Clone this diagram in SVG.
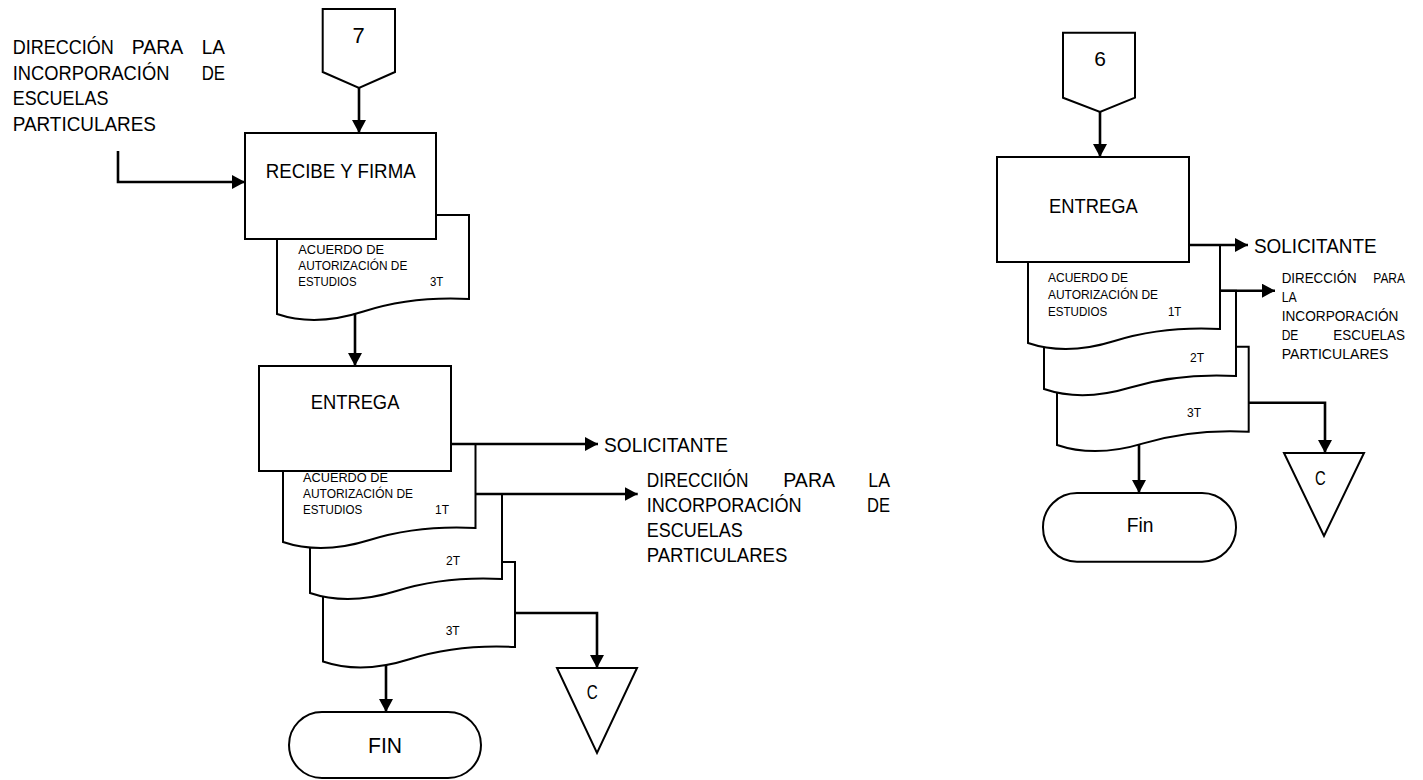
<svg xmlns="http://www.w3.org/2000/svg" width="1423" height="780" viewBox="0 0 1423 780">
<style>
.shape{fill:#fff;stroke:#000;stroke-width:2}
.conn{fill:none;stroke:#000;stroke-width:2.6}
.t{font-family:"Liberation Sans",Arial,sans-serif;fill:#000}
.f20{font-size:20px}
.f21{font-size:21px}
.doc{font-size:13px}
.f15{font-size:15px}
.mid{text-anchor:middle}
</style>
<defs>
<marker id="ah" markerUnits="userSpaceOnUse" markerWidth="14" markerHeight="14" refX="13" refY="7" orient="auto">
<path d="M0,0 L13,7 L0,14 Z" fill="#000"/>
</marker>
</defs>
<rect width="1423" height="780" fill="#fff"/>

<g id="lbl-dir-left">
<text class="t f20" x="12.7" y="54" textLength="101" lengthAdjust="spacingAndGlyphs">DIRECCIÓN</text>
<text class="t f20" x="131.7" y="54" textLength="51.5" lengthAdjust="spacingAndGlyphs">PARA</text>
<text class="t f20" x="201.7" y="54" textLength="23.3" lengthAdjust="spacingAndGlyphs">LA</text>
<text class="t f20" x="12.7" y="80" textLength="156.7" lengthAdjust="spacingAndGlyphs">INCORPORACIÓN</text>
<text class="t f20" x="201.7" y="80" textLength="23.3" lengthAdjust="spacingAndGlyphs">DE</text>
<text class="t f20" x="12.7" y="105" textLength="95.7" lengthAdjust="spacingAndGlyphs">ESCUELAS</text>
<text class="t f20" x="12.7" y="130.5" textLength="143.3" lengthAdjust="spacingAndGlyphs">PARTICULARES</text>
</g>

<g id="off7">
<polygon class="shape" points="322.7,9 395,9 395,72 359,88 322.7,72"/>
<text class="t mid" style="font-size:22px" x="358.5" y="42.7">7</text>
</g>

<g id="docA">
<path class="shape" d="M277,314 Q315.4,327 363.4,311.5 T469,299 V215 H277 Z"/>
<text class="t doc" x="298.3" y="254.3" textLength="85.7" lengthAdjust="spacingAndGlyphs">ACUERDO DE</text>
<text class="t doc" x="298.3" y="270" textLength="109" lengthAdjust="spacingAndGlyphs">AUTORIZACIÓN DE</text>
<text class="t doc" x="298.3" y="285.7" textLength="58.3" lengthAdjust="spacingAndGlyphs">ESTUDIOS</text>
<text class="t doc" x="430" y="285.7" textLength="13.3" lengthAdjust="spacingAndGlyphs">3T</text>
</g>

<g id="recibe">
<rect class="shape" x="245" y="133" width="191" height="106"/>
<text class="t f20" x="265.7" y="177.7" textLength="150" lengthAdjust="spacingAndGlyphs">RECIBE Y FIRMA</text>
</g>

<g id="docD">
<path class="shape" d="M323,661.5 Q361.4,674.5 409.4,659.25 T515,647 V562 H323 Z"/>
<text class="t doc" x="445.7" y="635" textLength="14" lengthAdjust="spacingAndGlyphs">3T</text>
</g>
<g id="docC">
<path class="shape" d="M310,593 Q348.4,606 396.4,591 T502,579 V494 H310 Z"/>
<text class="t doc" x="446" y="565" textLength="14" lengthAdjust="spacingAndGlyphs">2T</text>
</g>
<g id="docB">
<path class="shape" d="M283,542 Q321.5,555 369.6,540 T475.5,528 V444 H283 Z"/>
<text class="t doc" x="303" y="481.7" textLength="85" lengthAdjust="spacingAndGlyphs">ACUERDO DE</text>
<text class="t doc" x="303" y="498" textLength="110" lengthAdjust="spacingAndGlyphs">AUTORIZACIÓN DE</text>
<text class="t doc" x="303" y="514" textLength="59.3" lengthAdjust="spacingAndGlyphs">ESTUDIOS</text>
<text class="t doc" x="435" y="514" textLength="14" lengthAdjust="spacingAndGlyphs">1T</text>
</g>

<g id="entrega-left">
<rect class="shape" x="259" y="366" width="192" height="105"/>
<text class="t f20" x="310.7" y="409" textLength="88.7" lengthAdjust="spacingAndGlyphs">ENTREGA</text>
</g>

<g id="lbl-sol-left">
<text class="t f21" x="604" y="451.5" textLength="124" lengthAdjust="spacingAndGlyphs">SOLICITANTE</text>
</g>

<g id="lbl-dir-mid">
<text class="t f20" x="646.7" y="487" textLength="101.7" lengthAdjust="spacingAndGlyphs">DIRECCIIÓN</text>
<text class="t f20" x="783.3" y="487" textLength="51.7" lengthAdjust="spacingAndGlyphs">PARA</text>
<text class="t f20" x="868.3" y="487" textLength="21.7" lengthAdjust="spacingAndGlyphs">LA</text>
<text class="t f20" x="646.7" y="512" textLength="155" lengthAdjust="spacingAndGlyphs">INCORPORACIÓN</text>
<text class="t f20" x="867" y="512" textLength="23" lengthAdjust="spacingAndGlyphs">DE</text>
<text class="t f20" x="646.7" y="537" textLength="96" lengthAdjust="spacingAndGlyphs">ESCUELAS</text>
<text class="t f20" x="646.7" y="562" textLength="140.7" lengthAdjust="spacingAndGlyphs">PARTICULARES</text>
</g>

<g id="fin-left">
<rect class="shape" x="289" y="712" width="192" height="66" rx="33" ry="33"/>
<text class="t" style="font-size:22px" x="368" y="752.7" textLength="34" lengthAdjust="spacingAndGlyphs">FIN</text>
</g>

<g id="c-left">
<polygon class="shape" points="557,668 637,668 597,753"/>
<text class="t f20" x="586.7" y="699.3" textLength="11" lengthAdjust="spacingAndGlyphs">C</text>
</g>

<g id="off6">
<polygon class="shape" points="1063,32.7 1135,32.7 1135,97.7 1100,112 1063,97.7"/>
<text class="t mid" style="font-size:21px" x="1100" y="65.7">6</text>
</g>

<g id="docG">
<path class="shape" d="M1057,445 Q1095.3,458 1143.3,443.4 T1248.7,431.7 V346.7 H1057 Z"/>
<text class="t doc" x="1187" y="417.3" textLength="14" lengthAdjust="spacingAndGlyphs">3T</text>
</g>
<g id="docF">
<path class="shape" d="M1044,389 Q1082.4,402 1130.4,387.5 T1236,376 V290.7 H1044 Z"/>
<text class="t doc" x="1190" y="361.7" textLength="14" lengthAdjust="spacingAndGlyphs">2T</text>
</g>
<g id="docE">
<path class="shape" d="M1028,343 Q1066.4,356 1114.4,341 T1220,329 V245 H1028 Z"/>
<text class="t doc" x="1048" y="281.7" textLength="80" lengthAdjust="spacingAndGlyphs">ACUERDO DE</text>
<text class="t doc" x="1048" y="299.3" textLength="110" lengthAdjust="spacingAndGlyphs">AUTORIZACIÓN DE</text>
<text class="t doc" x="1048" y="316" textLength="59.3" lengthAdjust="spacingAndGlyphs">ESTUDIOS</text>
<text class="t doc" x="1168" y="316" textLength="13.3" lengthAdjust="spacingAndGlyphs">1T</text>
</g>

<g id="entrega-right">
<rect class="shape" x="997" y="157" width="192" height="105"/>
<text class="t f20" x="1049" y="213.3" textLength="88.7" lengthAdjust="spacingAndGlyphs">ENTREGA</text>
</g>

<g id="lbl-sol-right">
<text class="t f21" x="1254" y="253.3" textLength="122.7" lengthAdjust="spacingAndGlyphs">SOLICITANTE</text>
</g>

<g id="lbl-dir-right">
<text class="t f15" x="1281.7" y="283" textLength="75" lengthAdjust="spacingAndGlyphs">DIRECCIÓN</text>
<text class="t f15" x="1373.3" y="283" textLength="31.7" lengthAdjust="spacingAndGlyphs">PARA</text>
<text class="t f15" x="1281.7" y="302" textLength="15" lengthAdjust="spacingAndGlyphs">LA</text>
<text class="t f15" x="1281.7" y="321" textLength="116.7" lengthAdjust="spacingAndGlyphs">INCORPORACIÓN</text>
<text class="t f15" x="1281.7" y="340" textLength="16.7" lengthAdjust="spacingAndGlyphs">DE</text>
<text class="t f15" x="1333.3" y="340" textLength="71.7" lengthAdjust="spacingAndGlyphs">ESCUELAS</text>
<text class="t f15" x="1281.7" y="359" textLength="106.7" lengthAdjust="spacingAndGlyphs">PARTICULARES</text>
</g>

<g id="fin-right">
<rect class="shape" x="1043" y="493" width="193" height="68.7" rx="34" ry="34"/>
<text class="t f20" x="1126.7" y="531.7" textLength="26.7" lengthAdjust="spacingAndGlyphs">Fin</text>
</g>

<g id="c-right">
<polygon class="shape" points="1284,453 1364,453 1324,536"/>
<text class="t f20" x="1315" y="485" textLength="10.7" lengthAdjust="spacingAndGlyphs">C</text>
</g>

<g id="connectors">
<path class="conn" d="M359,88 V133" marker-end="url(#ah)"/>
<path class="conn" d="M118,151 V182 H245" marker-end="url(#ah)"/>
<path class="conn" d="M355,313 V366" marker-end="url(#ah)"/>
<path class="conn" d="M451,444 H598" marker-end="url(#ah)"/>
<path class="conn" d="M475.5,494 H637.7" marker-end="url(#ah)"/>
<path class="conn" d="M515,613 H597 V668" marker-end="url(#ah)"/>
<path class="conn" d="M386,665 V712" marker-end="url(#ah)"/>
<path class="conn" d="M1100,112 V157" marker-end="url(#ah)"/>
<path class="conn" d="M1189,245 H1248" marker-end="url(#ah)"/>
<path class="conn" d="M1220,290.7 H1275" marker-end="url(#ah)"/>
<path class="conn" d="M1248.7,402.7 H1325 V453" marker-end="url(#ah)"/>
<path class="conn" d="M1139,444 V493" marker-end="url(#ah)"/>
</g>
</svg>
